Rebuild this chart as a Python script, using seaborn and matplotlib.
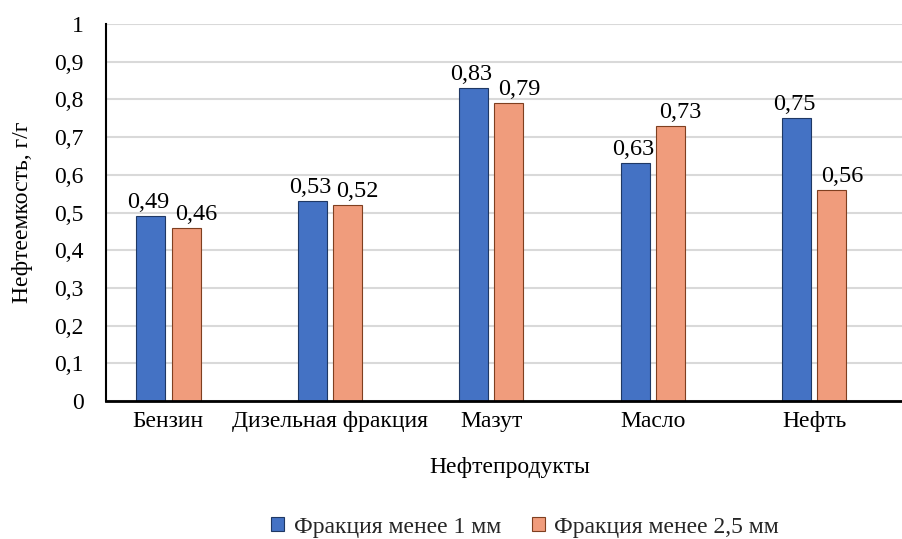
import matplotlib
matplotlib.use("Agg")
import matplotlib.pyplot as plt
import seaborn as sns
import pandas as pd
from matplotlib.ticker import FuncFormatter
from matplotlib.patches import Patch

categories = ["Бензин", "Дизельная фракция", "Мазут", "Масло", "Нефть"]
series_names = ["Фракция менее 1 мм", "Фракция менее 2,5 мм"]
values_1mm = [0.49, 0.53, 0.83, 0.63, 0.75]
values_25mm = [0.46, 0.52, 0.79, 0.73, 0.56]
y_ticks = [0, 0.1, 0.2, 0.3, 0.4, 0.5, 0.6, 0.7, 0.8, 0.9, 1.0]

df = pd.DataFrame({
    "cat": categories * 2,
    "series": [series_names[0]] * 5 + [series_names[1]] * 5,
    "val": values_1mm + values_25mm,
})

sns.set_theme(style="white")
plt.rcParams["font.family"] = ["Liberation Serif", "DejaVu Serif"]

colors = ["#4472C4", "#F09C7C"]
edges = ["#1F3864", "#7F3F20"]
label_dx = [-1.5, 7.2]  # points, label placement as in the reference
FS = 17

fig = plt.figure(figsize=(9.03, 5.39), dpi=100)
ax = fig.add_axes([0.1174, 0.256, 0.8826, 0.6995])

sns.barplot(data=df, x="cat", y="val", hue="series", order=categories,
            hue_order=series_names, palette=colors, width=0.438, gap=0.18,
            saturation=1, ax=ax, legend=False, linewidth=0.8)

for cont, ec, dx in zip(ax.containers, edges, label_dx):
    for p, v in zip(cont, cont.datavalues):
        p.set_edgecolor(ec)
        ax.annotate(f"{v:.2f}".replace(".", ","),
                    xy=(p.get_x() + p.get_width() / 2, p.get_height()),
                    xytext=(dx, 5.8), textcoords="offset points",
                    ha="center", va="baseline", fontsize=17.5, color="black")

ax.set_ylim(0, 1)
ax.set_xlim(-0.386, 4.55)
ax.set_yticks(y_ticks)
ax.yaxis.set_major_formatter(FuncFormatter(lambda v, p: ("%g" % round(v, 1)).replace(".", ",")))
ax.grid(axis="y", color="#D9D9D9", linewidth=1.5)
ax.set_axisbelow(True)
for s in ["top", "right"]:
    ax.spines[s].set_visible(False)
ax.spines["left"].set_color("black")
ax.spines["left"].set_linewidth(1.5)
ax.spines["bottom"].set_color("black")
ax.spines["bottom"].set_linewidth(2)
ax.tick_params(axis="y", length=0, pad=16, labelsize=FS, colors="black")
ax.tick_params(axis="x", length=0, pad=7, labelsize=FS, colors="black")

ax.set_xlabel("Нефтепродукты", fontsize=FS, color="black")
ax.xaxis.set_label_coords((510 - 106) / 797, -(457 - 401) / 377)
ax.set_ylabel("Нефтеемкость, г/г", fontsize=FS, color="black")
ax.yaxis.set_label_coords(-(106 - 33) / 797, 0.5)

handles = [Patch(facecolor=c, edgecolor=e, linewidth=0.8) for c, e in zip(colors, edges)]
fig.legend(handles, series_names, loc="center", bbox_to_anchor=(525 / 903, 1 - 527 / 539),
           ncol=2, frameon=False, fontsize=FS, handlelength=0.55, handleheight=0.55,
           columnspacing=1.3, handletextpad=0.4, borderpad=0.2)

fig.savefig("out.png", dpi=100)
